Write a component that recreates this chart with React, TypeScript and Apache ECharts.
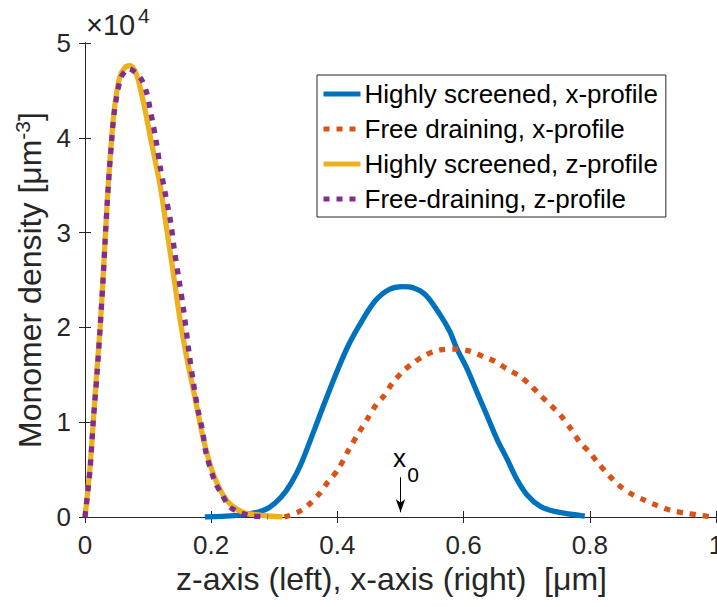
import React, { useEffect, useRef } from "react";
import * as echarts from "echarts";

// Highly screened, x-profile (blue, solid)
const hsXx = [0.19, 0.246, 0.273, 0.292, 0.311, 0.327, 0.343, 0.364, 0.38, 0.399, 0.418, 0.439, 0.46, 0.482, 0.503, 0.519, 0.54, 0.562, 0.578, 0.589, 0.605, 0.621, 0.637, 0.653, 0.669, 0.685, 0.701, 0.722, 0.744, 0.792];
const hsXy = [0.0, 0.02, 0.05, 0.1, 0.21, 0.36, 0.57, 0.93, 1.21, 1.53, 1.82, 2.07, 2.28, 2.4, 2.43, 2.42, 2.34, 2.14, 1.96, 1.78, 1.57, 1.32, 1.07, 0.82, 0.61, 0.39, 0.23, 0.11, 0.06, 0.01];

// Free draining, x-profile (orange, dotted)
const fdXx = [0.316, 0.337, 0.353, 0.372, 0.385, 0.401, 0.418, 0.434, 0.447, 0.461, 0.474, 0.487, 0.503, 0.519, 0.54, 0.561, 0.586, 0.61, 0.632, 0.65, 0.669, 0.688, 0.706, 0.722, 0.738, 0.754, 0.77, 0.784, 0.8, 0.813, 0.829, 0.845, 0.864, 0.886, 0.907, 0.928, 0.952, 0.974, 0.993];
const fdXy = [0.0, 0.05, 0.12, 0.25, 0.37, 0.5, 0.71, 0.89, 1.03, 1.18, 1.28, 1.41, 1.53, 1.62, 1.71, 1.76, 1.77, 1.75, 1.69, 1.64, 1.56, 1.49, 1.39, 1.28, 1.18, 1.07, 0.93, 0.79, 0.68, 0.57, 0.45, 0.34, 0.25, 0.18, 0.12, 0.07, 0.04, 0.02, 0.0];

// Highly screened, z-profile (yellow, solid)
const hsZx = [0, 0.008, 0.013, 0.0185, 0.024, 0.029, 0.033, 0.037, 0.042, 0.047, 0.055, 0.063, 0.071, 0.078, 0.084, 0.095, 0.105, 0.119, 0.129, 0.14, 0.15, 0.161, 0.174, 0.187, 0.203, 0.224, 0.25, 0.277, 0.313];
const hsZy = [0.0, 0.53, 0.99, 1.52, 2.0, 2.57, 3.06, 3.52, 3.98, 4.33, 4.64, 4.74, 4.76, 4.72, 4.62, 4.3, 3.96, 3.5, 3.06, 2.57, 2.11, 1.69, 1.27, 0.84, 0.46, 0.18, 0.05, 0.02, 0.0];

// Free-draining, z-profile (purple, dotted)
const fdZx = [0, 0.008, 0.013, 0.019, 0.024, 0.029, 0.033, 0.037, 0.042, 0.047, 0.056, 0.063, 0.069, 0.078, 0.09, 0.098, 0.103, 0.107, 0.112, 0.119, 0.127, 0.136, 0.142, 0.149, 0.156, 0.165, 0.171, 0.179, 0.186, 0.192, 0.206, 0.216, 0.229, 0.248, 0.266, 0.29];
const fdZy = [0.0, 0.5, 1.0, 1.5, 2.0, 2.55, 3.05, 3.5, 3.95, 4.3, 4.62, 4.7, 4.73, 4.7, 4.61, 4.47, 4.31, 4.17, 4.0, 3.7, 3.42, 3.1, 2.8, 2.5, 2.2, 1.73, 1.45, 1.13, 0.92, 0.67, 0.37, 0.25, 0.11, 0.04, 0.01, 0.0];

const xTicks = [0, 0.2, 0.4, 0.6, 0.8, 1];
const yTicks = [0, 1, 2, 3, 4, 5];
const x0Pos = 0.5;
const x0ArrowFrom = 0.42;
const x0ArrowTo = 0.05;

const names = [
  "Highly screened, x-profile",
  "Free draining, x-profile",
  "Highly screened, z-profile",
  "Free-draining, z-profile",
];
const colors = ["#0072BD", "#D95319", "#EDB120", "#7E2F8E"];

const zip = (xs: number[], ys: number[]) => xs.map((x, i) => [x, ys[i]]);

export default function App() {
  const ref = useRef<HTMLDivElement>(null);
  useEffect(() => {
    if (!ref.current) return;
    const chart = echarts.init(ref.current, null, { renderer: "svg" });
    const font = "'Liberation Sans', Arial, Helvetica, sans-serif";
    const axisCol = "#262626";
    const dotted = [6, 7];
    const mk = (i: number, data: number[][], dashed: boolean) => ({
      type: "line",
      name: names[i],
      data,
      symbol: "none",
      showSymbol: false,
      smooth: 0.3,
      color: colors[i],
      lineStyle: {
        width: 5.3,
        color: colors[i],
        type: dashed ? dotted : "solid",
        cap: "butt",
      },
      z: 2 + i,
    });
    chart.setOption({
      animation: false,
      backgroundColor: "#ffffff",
      textStyle: { fontFamily: font },
      grid: { left: 85, right: 1, top: 43, bottom: 90, containLabel: false, outerBoundsMode: "none" },
      xAxis: [
        {
          type: "value",
          min: xTicks[0],
          max: xTicks[xTicks.length - 1],
          interval: 0.2,
          position: "bottom",
          name: "z-axis (left), x-axis (right)  [μm]",
          nameLocation: "middle",
          nameGap: 43,
          nameTextStyle: { fontSize: 32, color: axisCol, padding: [0, 18, 0, 0] },
          axisLine: { show: true, lineStyle: { color: axisCol, width: 1 } },
          axisTick: { show: true, inside: true, length: 6, lineStyle: { color: axisCol } },
          axisLabel: { fontSize: 26, color: axisCol, margin: 15 },
          splitLine: { show: false },
        },
        {
          type: "value",
          min: xTicks[0],
          max: xTicks[xTicks.length - 1],
          interval: 0.2,
          position: "top",
          axisLine: { show: true, lineStyle: { color: axisCol, width: 1 } },
          axisTick: { show: true, inside: true, length: 6, lineStyle: { color: axisCol } },
          axisLabel: { show: false },
          splitLine: { show: false },
        },
      ],
      yAxis: [
        {
          type: "value",
          min: yTicks[0],
          max: yTicks[yTicks.length - 1],
          interval: 1,
          position: "left",
          name: "Monomer density [μm{sup|-3}]",
          nameLocation: "middle",
          nameGap: 37,
          nameTextStyle: {
            fontSize: 32,
            color: axisCol,
            rich: { sup: { fontSize: 21, verticalAlign: "top", padding: [0, 0, 14, 0], color: axisCol } },
          },
          axisLine: { show: true, lineStyle: { color: axisCol, width: 1 } },
          axisTick: { show: true, inside: true, length: 6, lineStyle: { color: axisCol } },
          axisLabel: { fontSize: 26, color: axisCol, margin: 14 },
          splitLine: { show: false },
        },
        {
          type: "value",
          min: yTicks[0],
          max: yTicks[yTicks.length - 1],
          interval: 1,
          position: "right",
          axisLine: { show: true, lineStyle: { color: axisCol, width: 1 } },
          axisTick: { show: true, inside: true, length: 6, lineStyle: { color: axisCol } },
          axisLabel: { show: false },
          splitLine: { show: false },
        },
      ],
      legend: {
        orient: "vertical",
        left: 317,
        top: 75,
        padding: [6, 8, 5, 4],
        itemGap: 9,
        itemWidth: 37,
        itemHeight: 20,
        backgroundColor: "#ffffff",
        borderColor: axisCol,
        borderWidth: 1,
        borderRadius: 0,
        itemStyle: { opacity: 0 },
        lineStyle: { width: 5, cap: "butt" },
        textStyle: { fontSize: 26, color: "#000000", padding: [0, 0, 0, -1] },
        data: names.map((n) => ({ name: n })),
      },
      series: [
        mk(0, zip(hsXx, hsXy), false),
        mk(1, zip(fdXx, fdXy), true),
        mk(2, zip(hsZx, hsZy), false),
        mk(3, zip(fdZx, fdZy), true),
        {
          type: "line",
          data: [],
          silent: true,
          markLine: {
            silent: true,
            animation: false,
            lineStyle: { color: "#000000", width: 1, type: "solid" },
            symbolSize: [7, 13],
            label: { show: false },
            data: [
              [
                { coord: [x0Pos, x0ArrowFrom], symbol: "none" },
                { coord: [x0Pos, x0ArrowTo], symbol: "arrow" },
              ],
            ],
          },
        },
      ],
    });

    const p = chart.convertToPixel({ xAxisIndex: 0, yAxisIndex: 0 }, [x0Pos, x0ArrowFrom]) as number[];
    chart.setOption({
      graphic: [
        {
          type: "text",
          x: 86,
          y: 25,
          style: { text: "×10", font: `29px ${font}`, fill: axisCol, verticalAlign: "middle", align: "left" },
        },
        {
          type: "text",
          x: 138,
          y: 15,
          style: { text: "4", font: `21px ${font}`, fill: axisCol, verticalAlign: "middle", align: "left" },
        },
        {
          type: "text",
          x: p[0] - 1,
          y: p[1] - 19,
          style: { text: "x", font: `26px ${font}`, fill: "#000000", verticalAlign: "middle", align: "center" },
        },
        {
          type: "text",
          x: p[0] + 12.5,
          y: p[1] - 2.3,
          style: { text: "0", font: `21px ${font}`, fill: "#000000", verticalAlign: "middle", align: "center" },
        },
      ],
    });
    return () => chart.dispose();
  }, []);
  return (
    <div
      ref={ref}
      style={{ position: "fixed", left: 0, top: 0, width: 717, height: 607, background: "#fff" }}
    />
  );
}
